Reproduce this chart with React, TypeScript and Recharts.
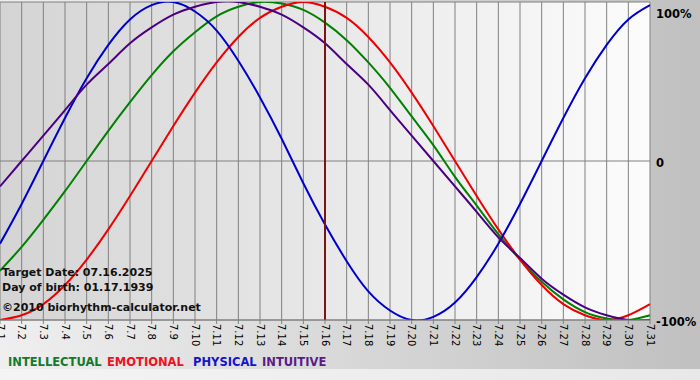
import { LineChart, Line, XAxis, YAxis, CartesianGrid, ReferenceLine } from 'recharts';

// days of July 2025
const days = [1, 2, 3, 4, 5, 6, 7, 8, 9, 10, 11, 12, 13, 14, 15, 16, 17, 18, 19, 20, 21, 22, 23, 24, 25, 26, 27, 28, 29, 30, 31];
const dayLabels = ['7.1', '7.2', '7.3', '7.4', '7.5', '7.6', '7.7', '7.8', '7.9', '7.10', '7.11', '7.12', '7.13', '7.14', '7.15', '7.16',
  '7.17', '7.18', '7.19', '7.20', '7.21', '7.22', '7.23', '7.24', '7.25', '7.26', '7.27', '7.28', '7.29', '7.30', '7.31'];

// cycle values in %
const intellectual = [-69, -54, -37, -19, 0, 19, 37, 54, 69, 81, 91, 97, 100, 99, 95, 87, 76, 62, 46, 28, 10, -10, -28, -46, -62, -76, -87, -95, -99, -100, -97];
const emotional = [-100, -97, -90, -78, -62, -43, -22, 0, 22, 43, 62, 78, 90, 97, 100, 97, 90, 78, 62, 43, 22, 0, -22, -43, -62, -78, -90, -97, -100, -97, -90];
const physical = [-52, -27, 0, 27, 52, 73, 89, 98, 100, 94, 82, 63, 40, 14, -14, -40, -63, -82, -94, -100, -98, -89, -73, -52, -27, 0, 27, 52, 73, 89, 98];
const intuitive = [-16, 0, 16, 32, 48, 61, 74, 84, 92, 97, 100, 100, 97, 92, 84, 74, 61, 48, 32, 16, 0, -16, -32, -48, -61, -74, -84, -92, -97, -100, -100];

const pctTicks = [-100, 0, 100];
const pctLabels: Record<number, string> = { '-100': '-100%', 0: '0', 100: '100%' };
const targetDay = 16;

const COLORS = {
  intellectual: '#008000',
  emotional: '#ee0000',
  physical: '#0000cc',
  intuitive: '#4b0082',
};

const FONT = '"DejaVu Sans", Verdana, sans-serif';

const chartData = days.map((d, i) => ({
  day: d,
  intellectual: intellectual[i],
  emotional: emotional[i],
  physical: physical[i],
  intuitive: intuitive[i],
}));

const DayTick = (props: any) => {
  const { x, y, payload } = props;
  return (
    <g transform={`translate(${x},${y})`}>
      <text transform="rotate(90)" x={0} y={0} dy="0.35em" textAnchor="start" fontSize={10} fontFamily={FONT} fill="#000">
        {dayLabels[payload.value - 1]}
      </text>
    </g>
  );
};

const PctTick = (props: any) => {
  const { x, y, payload } = props;
  const off = payload.value === 100 ? 5 : 1.5;
  return (
    <text x={x} y={y + off} dy="0.35em" textAnchor="start" fontSize={11.5} fontWeight="bold" fontFamily={FONT} fill="#000">
      {pctLabels[payload.value]}
    </text>
  );
};

export default function App() {
  return (
    <div style={{ position: 'relative', width: 700, height: 380, overflow: 'hidden', background: 'linear-gradient(to right, #efefef, #c0c0c0)' }}>
      <style>{'body{margin:0}'}</style>
      <div style={{ position: 'absolute', left: 0, top: 369, width: 700, height: 11, background: 'linear-gradient(to right, #f4f4f4, #e8e8e8)' }} />
      <div style={{ position: 'absolute', left: 0, top: 0 }}>
        <LineChart width={700} height={380} data={chartData} margin={{ top: 2, right: 0, bottom: 0, left: 0 }}>
          <defs>
            <linearGradient id="plotBg" x1="0" y1="0" x2="1" y2="0">
              <stop offset="0%" stopColor="#d4d4d4" />
              <stop offset="100%" stopColor="#fcfcfc" />
            </linearGradient>
          </defs>
          <CartesianGrid stroke="#808080" fill="url(#plotBg)" fillOpacity={1} />
          <XAxis
            dataKey="day"
            type="number"
            domain={[1, 31]}
            ticks={days}
            interval={0}
            height={60}
            axisLine={{ stroke: '#808080' }}
            tickLine={{ stroke: '#808080' }}
            tickSize={4}
            tickMargin={0}
            tick={DayTick}
          />
          <YAxis
            orientation="right"
            domain={[-100, 100]}
            ticks={pctTicks}
            width={50}
            axisLine={false}
            tickLine={false}
            tickSize={0}
            tickMargin={6}
            tick={PctTick}
            allowDataOverflow
          />
          <Line type="natural" dataKey="intellectual" stroke={COLORS.intellectual} strokeWidth={2} dot={false} isAnimationActive={false} />
          <Line type="natural" dataKey="emotional" stroke={COLORS.emotional} strokeWidth={2} dot={false} isAnimationActive={false} />
          <Line type="natural" dataKey="physical" stroke={COLORS.physical} strokeWidth={2} dot={false} isAnimationActive={false} />
          <Line type="natural" dataKey="intuitive" stroke={COLORS.intuitive} strokeWidth={2} dot={false} isAnimationActive={false} />
          <ReferenceLine x={targetDay} stroke="#7b1414" strokeWidth={2} />
        </LineChart>
      </div>
      <svg width={700} height={380} style={{ position: 'absolute', left: 0, top: 0, pointerEvents: 'none' }}>
        <g fontFamily={FONT} fontWeight="bold" fontSize={11} fill="#111">
          <text x={2} y={276}>Target Date: 07.16.2025</text>
          <text x={2} y={291}>Day of birth: 01.17.1939</text>
          <text x={2} y={311}>©2010 biorhythm-calculator.net</text>
        </g>
        <g fontFamily={FONT} fontWeight="bold" fontSize={11.5}>
          <text x={8} y={366} fill="#137a2c">INTELLECTUAL</text>
          <text x={107} y={366} fill="#ee1122">EMOTIONAL</text>
          <text x={193} y={366} fill="#1414cc">PHYSICAL</text>
          <text x={262} y={366} fill="#5a1a8a">INTUITIVE</text>
        </g>
      </svg>
    </div>
  );
}
